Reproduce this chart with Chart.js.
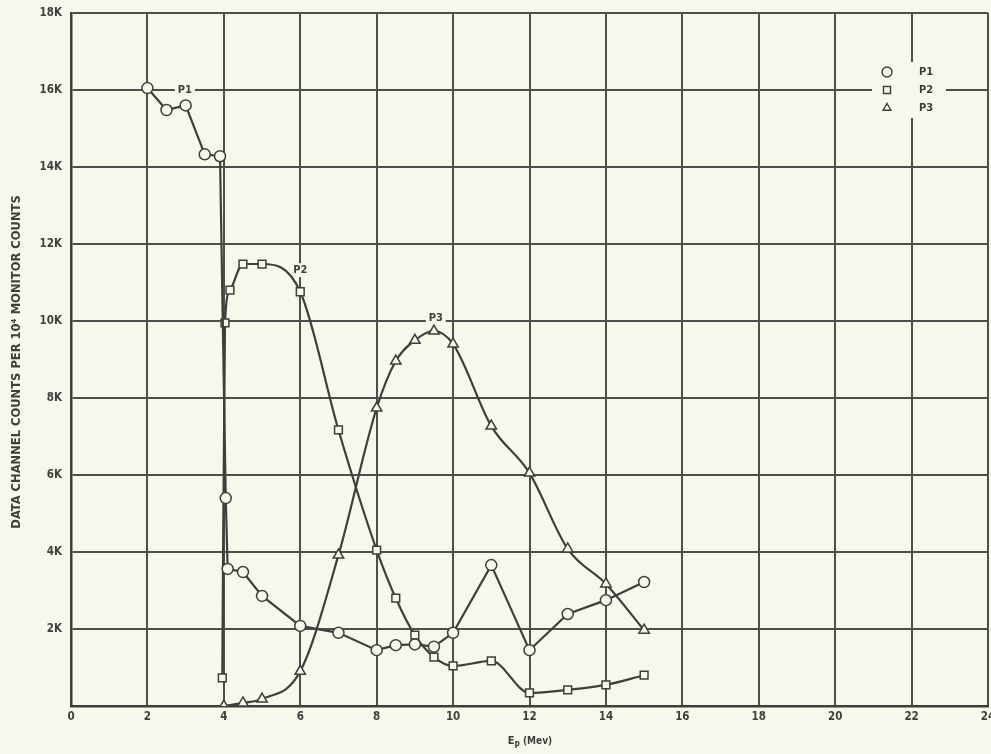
<!DOCTYPE html>
<html lang="en">
<head>
<meta charset="UTF-8">
<title>Data Channel Counts vs Ep</title>
<script src="https://cdn.jsdelivr.net/npm/chart.js"></script>
<style>
  html, body { margin: 0; padding: 0; background: #f8f7ec; }
  canvas { display: block; }
</style>
</head>
<body>
<canvas id="chart" width="991" height="754"></canvas>
<script>
  // readings (x in MeV, y in counts per 10^4 monitor counts)
  const p1Energy = [2, 2.5, 3, 3.5, 3.9, 4.05, 4.1, 4.5, 5, 6, 7, 8, 8.5, 9, 9.5, 10, 11, 12, 13, 14, 15];
  const p1Counts = [16050, 15480, 15600, 14330, 14280, 5400, 3560, 3480, 2860, 2080, 1900, 1450, 1580, 1600, 1540, 1900, 3660, 1450, 2390, 2750, 3220];

  const p2Energy = [3.96, 4.03, 4.16, 4.5, 5, 6, 7, 8, 8.5, 9, 9.5, 10, 11, 12, 13, 14, 15];
  const p2Counts = [730, 9950, 10800, 11480, 11480, 10760, 7170, 4050, 2800, 1840, 1270, 1040, 1170, 340, 420, 550, 800];

  const p3Energy = [4, 4.5, 5, 6, 7, 8, 8.5, 9, 9.5, 10, 11, 12, 13, 14, 15];
  const p3Counts = [0, 80, 180, 900, 3920, 7740, 8960, 9500, 9740, 9400, 7270, 6050, 4080, 3170, 1970];

  const seriesNames = ['P1', 'P2', 'P3'];
  const yTicks = [0, 2000, 4000, 6000, 8000, 10000, 12000, 14000, 16000, 18000];

  const ink = '#3b403d';
  const paper = '#f8f7ec';
  const font = '"DejaVu Sans Condensed", "DejaVu Sans", sans-serif';

  const toPts = (xs, ys) => xs.map((x, i) => ({ x: x, y: ys[i] }));

  function lineSet(name, xs, ys, style, smooth, radius) {
    return {
      label: name,
      data: toPts(xs, ys),
      showLine: true,
      borderColor: ink,
      borderWidth: 2.2,
      cubicInterpolationMode: smooth ? 'monotone' : 'default',
      tension: 0,
      pointStyle: style,
      pointRadius: radius,
      pointBorderWidth: 1.5,
      pointBorderColor: ink,
      pointBackgroundColor: paper
    };
  }

  // curve labels, legend and axis titles
  const decorations = {
    id: 'decorations',
    beforeDatasetsDraw(chart) {
      const { ctx, scales: { x, y } } = chart;
      ctx.save();
      ctx.font = 'bold 11px ' + font;
      ctx.textAlign = 'center';
      ctx.textBaseline = 'middle';
      [['P1', 2.98, 16000], ['P2', 6, 11320], ['P3', 9.55, 10070]].forEach(([t, ex, ey]) => {
        const px = x.getPixelForValue(ex), py = y.getPixelForValue(ey);
        ctx.fillStyle = paper;
        ctx.fillRect(px - 10, py - 7, 20, 14);
        ctx.fillStyle = ink;
        ctx.fillText(t, px, py);
      });

      // legend box
      ctx.fillStyle = paper;
      ctx.fillRect(872, 62, 74, 56);
      const styles = ['circle', 'rect', 'triangle'];
      const radii = [5, 5, 4.5];
      seriesNames.forEach((name, i) => {
        const ly = 72 + i * 18;
        ctx.strokeStyle = ink;
        ctx.fillStyle = paper;
        ctx.lineWidth = 1.4;
        Chart.helpers.drawPoint(ctx, { pointStyle: styles[i], radius: radii[i], borderWidth: 1.4 }, 887, ly);
        ctx.fillStyle = ink;
        ctx.textAlign = 'left';
        ctx.fillText(name, 919, ly);
      });
      ctx.restore();
    },
    afterDraw(chart) {
      const { ctx } = chart;
      ctx.save();
      ctx.fillStyle = ink;
      // y title
      ctx.translate(17, 362);
      ctx.rotate(-Math.PI / 2);
      ctx.font = 'bold 12.8px ' + font;
      ctx.textAlign = 'center';
      ctx.textBaseline = 'middle';
      ctx.fillText('DATA CHANNEL COUNTS PER 10\u2074 MONITOR COUNTS', 0, 0);
      ctx.restore();

      // x title with subscript
      ctx.save();
      ctx.fillStyle = ink;
      ctx.textBaseline = 'alphabetic';
      ctx.font = 'bold 11px ' + font;
      const w1 = ctx.measureText('E').width;
      ctx.font = 'bold 8px ' + font;
      const w2 = ctx.measureText('P').width;
      ctx.font = 'bold 10px ' + font;
      const w3 = ctx.measureText(' (Mev)').width;
      let sx = 530 - (w1 + w2 + w3) / 2;
      ctx.font = 'bold 11px ' + font;
      ctx.fillText('E', sx, 744);
      sx += w1;
      ctx.font = 'bold 8px ' + font;
      ctx.fillText('P', sx, 748);
      sx += w2;
      ctx.font = 'bold 10px ' + font;
      ctx.fillText(' (Mev)', sx, 744);
      ctx.restore();
    }
  };

  const bg = {
    id: 'bg',
    beforeDraw(chart) {
      const { ctx, width, height } = chart;
      ctx.save();
      ctx.fillStyle = paper;
      ctx.fillRect(0, 0, width, height);
      ctx.restore();
    }
  };

  new Chart(document.getElementById('chart'), {
    type: 'scatter',
    data: {
      datasets: [
        lineSet(seriesNames[0], p1Energy, p1Counts, 'circle', false, 5.5),
        lineSet(seriesNames[1], p2Energy, p2Counts, 'rect', true, 5.5),
        lineSet(seriesNames[2], p3Energy, p3Counts, 'triangle', true, 6)
      ]
    },
    options: {
      responsive: false,
      animation: false,
      layout: { autoPadding: false, padding: { left: 0, top: 13, right: 3, bottom: 0 } },
      plugins: {
        legend: { display: false },
        tooltip: { enabled: false }
      },
      scales: {
        x: {
          type: 'linear',
          min: 0,
          max: 24,
          afterFit(s) { s.height = 48; s.paddingLeft = 0; s.paddingRight = 0; },
          ticks: {
            stepSize: 2,
            color: ink,
            padding: 4,
            maxRotation: 0,
            font: { family: font, size: 11.5, weight: 'bold' }
          },
          grid: { color: '#4b504c', lineWidth: 2, drawTicks: false },
          border: { color: ink, width: 2.5 }
        },
        y: {
          min: 0,
          max: 18000,
          afterFit(s) { s.width = 71; s.paddingTop = 0; s.paddingBottom = 0; },
          afterBuildTicks(s) { s.ticks = yTicks.map(v => ({ value: v })); },
          ticks: {
            color: ink,
            padding: 9,
            font: { family: font, size: 11.5, weight: 'bold' },
            callback: v => v === 0 ? '' : (v / 1000) + 'K'
          },
          grid: { color: '#4b504c', lineWidth: 2, drawTicks: false },
          border: { color: ink, width: 2.5 }
        }
      }
    },
    plugins: [bg, decorations]
  });
</script>
</body>
</html>
